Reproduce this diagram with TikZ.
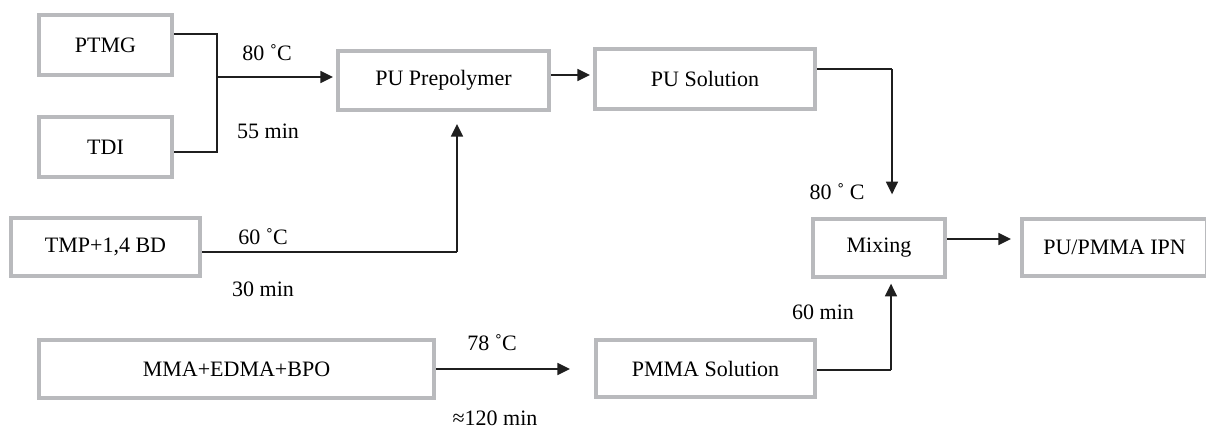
\documentclass[tikz,border=0pt]{standalone}
\usepackage{fontspec}
\setmainfont{Liberation Serif}
\usetikzlibrary{arrows.meta}
\definecolor{boxgray}{RGB}{185,186,189}
\begin{document}
\begin{tikzpicture}[x=0.75pt,y=-0.75pt,
  box/.style={draw=boxgray,line width=3pt,fill=white,inner sep=0pt,font=\fontsize{16.5}{19}\selectfont},
  link/.style={line width=1.2pt,draw=black!88},
  flow/.style={link,-{Triangle[length=9.5pt,width=9pt]}},
  lbl/.style={font=\fontsize{16.5}{19}\selectfont,inner sep=0pt}]
\useasboundingbox (0,0) rectangle (1206,432);
% boxes
\node[box,minimum width=99.75pt,minimum height=45pt] (PTMG) at (105.5,45) {PTMG};
\node[box,minimum width=99.75pt,minimum height=45pt] (TDI) at (105.5,147) {TDI};
\node[box,minimum width=158.25pt,minimum height=44.25pt] (Pre) at (443.5,80.5) {PU Prepolymer};
\node[box,minimum width=165pt,minimum height=45pt] (Sol) at (705,79) {PU Solution};
\node[box,minimum width=141.75pt,minimum height=43.5pt] (TMP) at (105.5,247) {TMP+1,4 BD};
\node[box,minimum width=296.25pt,minimum height=43.5pt] (MMA) at (236.5,369) {MMA+EDMA+BPO};
\node[box,minimum width=164.25pt,minimum height=42.75pt] (PMMA) at (705.5,368.5) {PMMA Solution};
\node[box,minimum width=99pt,minimum height=43.5pt] (Mix) at (879,248) {Mixing};
\node[box,minimum width=138.75pt,minimum height=42.75pt] (IPN) at (1114.5,247.5) {PU/PMMA IPN};
% junction coordinates
\coordinate (jA) at (217,34);
\coordinate (jB) at (217,152);
\coordinate (jM) at (217,77);
\coordinate (jT) at (457,252);
\coordinate (jS) at (892,69);
\coordinate (jP) at (891,370);
% connectors
\draw[link] (PTMG.east |- jA) -- (jA) -- (jB) -- (TDI.east |- jB);
\draw[flow,shorten >=2.25pt] (jM) -- (Pre.west |- jM);
\draw[flow,shorten >=2.25pt] (Pre.east |- 0,75) -- (Sol.west |- 0,75);
\draw[link] (TMP.east |- jT) -- (jT);
\draw[flow,shorten >=9pt] (jT) -- (Pre.south -| jT);
\draw[link] (Sol.east |- jS) -- (jS);
\draw[flow,shorten >=17pt] (jS) -- (Mix.north -| jS);
\draw[link] (PMMA.east |- jP) -- (jP);
\draw[flow,shorten >=3.5pt] (jP) -- (Mix.south -| jP);
\draw[flow,shorten >=6.75pt] (Mix.east |- 0,239) -- (IPN.west |- 0,239);
\draw[flow,shorten >=18pt] (MMA.east |- 0,369) -- (PMMA.west |- 0,369);
% labels
\node[lbl] (t1) at (267,53) {80 ˚C};
\node[lbl] (d1) at (268,131) {55 min};
\node[lbl] (t2) at (263,237) {60 ˚C};
\node[lbl] (d2) at (263,289) {30 min};
\node[lbl] (t3) at (492,343) {78 ˚C};
\node[lbl] (d3) at (495,418) {≈120 min};
\node[lbl] (t4) at (837,192) {80 ˚ C};
\node[lbl] (d4) at (823,312) {60 min};
\end{tikzpicture}
\end{document}
